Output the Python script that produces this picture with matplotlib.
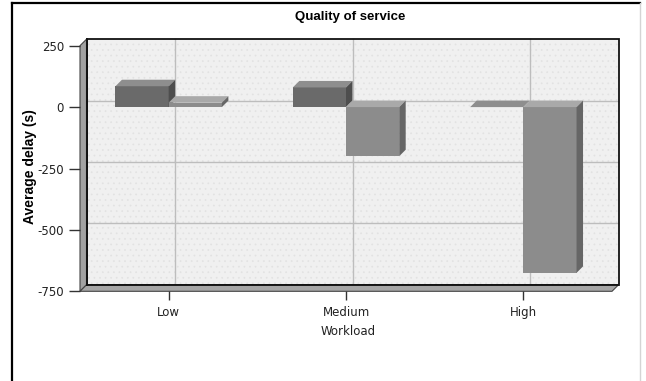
import matplotlib
matplotlib.use("Agg")
import matplotlib.pyplot as plt
from matplotlib.patches import Polygon, Rectangle
from matplotlib.lines import Line2D

# Data
categories = ["Low", "Medium", "High"]
series_a = [85, 80, 0]        # first series (dark bars)
series_b = [18, -200, -675]   # second series (light bars)
y_ticks = [250, 0, -250, -500, -750]

title = "Quality of service"
x_label = "Workload"
y_label = "Average delay (s)"

# Figure geometry (pixels)
W, H = 646, 381
DPI = 100
DEPTH_PX = 6.5
BAR_W = 0.30

plt.rcParams["hatch.linewidth"] = 0.5

fig = plt.figure(figsize=(W / DPI, H / DPI), dpi=DPI)
fig.patch.set_facecolor("white")

left_px, right_px = 80, 612
top_px, bot_px = 45.7, 291.3
ax = fig.add_axes([left_px / W, (H - bot_px) / H,
                   (right_px - left_px) / W, (bot_px - top_px) / H])
ymin, ymax = -750, 250
xmin, xmax = -0.5, len(categories) - 0.5
ax.set_xlim(xmin, xmax)
ax.set_ylim(ymin, ymax)
ax.patch.set_visible(False)
for s in ax.spines.values():
    s.set_visible(False)

# depth offset expressed in data units
p0 = ax.transData.transform((0, 0))
p1 = ax.transData.transform((1, 1))
ddx = DEPTH_PX / (p1[0] - p0[0])
ddy = DEPTH_PX / (p1[1] - p0[1])

# Back wall with a faint dotted texture
wall = Rectangle((xmin + ddx, ymin + ddy), xmax - xmin, ymax - ymin,
                 facecolor="#f0f0f0", edgecolor="#e2e2e2", linewidth=0,
                 hatch="...", zorder=0, clip_on=False)
ax.add_patch(wall)
wall_edge = Rectangle((xmin + ddx, ymin + ddy), xmax - xmin, ymax - ymin,
                      facecolor="none", edgecolor="#111111", linewidth=1.3,
                      zorder=0.5, clip_on=False)
ax.add_patch(wall_edge)

# Gridlines on the back wall
for v in y_ticks[1:-1]:
    ax.add_line(Line2D([xmin + ddx, xmax + ddx], [v + ddy, v + ddy],
                       color="#bdbdbd", linewidth=1.0, zorder=0.4, clip_on=False))
for i in range(len(categories)):
    ax.add_line(Line2D([i + ddx, i + ddx], [ymin + ddy, ymax + ddy],
                       color="#bdbdbd", linewidth=1.0, zorder=0.4, clip_on=False))

# Left wall and floor
left_wall = Polygon([(xmin, ymin), (xmin, ymax), (xmin + ddx, ymax + ddy),
                     (xmin + ddx, ymin + ddy)], closed=True,
                    facecolor="#a2a2a2", edgecolor="#444444", linewidth=0.8,
                    zorder=1, clip_on=False)
floor = Polygon([(xmin, ymin), (xmax, ymin), (xmax + ddx, ymin + ddy),
                 (xmin + ddx, ymin + ddy)], closed=True,
                facecolor="#a7a7a7", edgecolor="#444444", linewidth=0.8,
                zorder=1, clip_on=False)
ax.add_patch(left_wall)
ax.add_patch(floor)
ax.add_line(Line2D([xmin + ddx, xmax + ddx], [ymin + ddy, ymin + ddy],
                   color="#111111", linewidth=1.3, zorder=1.1, clip_on=False))
ax.add_line(Line2D([xmin + ddx, xmin + ddx], [ymin + ddy, ymax + ddy],
                   color="#111111", linewidth=1.3, zorder=1.1, clip_on=False))


def bar3d(xc, value, front, top, side, z):
    x0, x1 = xc - BAR_W / 2, xc + BAR_W / 2
    lo, hi = min(0, value), max(0, value)
    ax.bar(xc, value, width=BAR_W, bottom=0, color=front,
           linewidth=0, zorder=z, clip_on=False)
    ax.add_patch(Polygon([(x0, hi), (x1, hi), (x1 + ddx, hi + ddy),
                          (x0 + ddx, hi + ddy)], closed=True,
                         facecolor=top, edgecolor="none", zorder=z,
                         clip_on=False))
    ax.add_patch(Polygon([(x1, lo), (x1, hi), (x1 + ddx, hi + ddy),
                          (x1 + ddx, lo + ddy)], closed=True,
                         facecolor=side, edgecolor="none", zorder=z,
                         clip_on=False))


for i in range(len(categories)):
    bar3d(i - BAR_W / 2, series_a[i], "#6a6a6a", "#8e8e8e", "#4e4e4e", 3 + i)
    bar3d(i + BAR_W / 2, series_b[i], "#8c8c8c", "#a9a9a9", "#666666", 3.5 + i)

# Axes ticks
ax.set_yticks(y_ticks)
ax.set_yticklabels([str(v) for v in y_ticks])
ax.set_xticks(range(len(categories)))
ax.set_xticklabels(categories)
ax.tick_params(axis="y", length=8, width=1.0, color="#333333", pad=3.5,
               labelsize=8.5, labelcolor="#222222")
ax.tick_params(axis="x", length=6.6, width=1.0, color="#333333", pad=3.8,
               labelsize=8.5, labelcolor="#222222")
for lbl in ax.get_xticklabels() + ax.get_yticklabels():
    lbl.set_family("DejaVu Sans")

# Titles
fig.text(350 / W, 1 - 17 / H, title, ha="center", va="center",
         fontsize=9.5, fontweight="bold", family="Liberation Sans")
fig.text(30 / W, 1 - 167 / H, y_label, ha="center", va="center",
         rotation=90, fontsize=10, fontweight="bold", family="Liberation Sans")
fig.text(348 / W, 1 - 331.5 / H, x_label, ha="center", va="center",
         fontsize=8.5, family="DejaVu Sans", color="#222222")

# Frame lines around the chart area
fig.add_artist(Line2D([12 / W, 640 / W], [1 - 2.5 / H, 1 - 2.5 / H],
                      color="black", linewidth=1.6, transform=fig.transFigure))
fig.add_artist(Line2D([12 / W, 12 / W], [0, 1 - 2.5 / H],
                      color="black", linewidth=1.6, transform=fig.transFigure))
fig.add_artist(Line2D([639.5 / W, 639.5 / W], [0, 1 - 2.5 / H],
                      color="#d4d4d4", linewidth=1.0, transform=fig.transFigure))

fig.savefig("out.png", dpi=DPI)
